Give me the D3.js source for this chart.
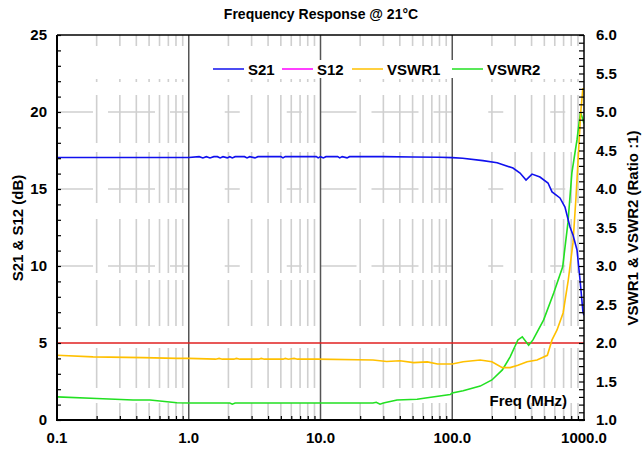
<!DOCTYPE html>
<html lang="en">
  <head>
    <meta charset="UTF-8" />
    <title>Frequency Response</title>
    <script src="https://cdn.jsdelivr.net/npm/d3@7/dist/d3.min.js"></script>
    <style>
      body { margin: 0; background: #fff; }
      text { font-family: "Liberation Sans", Arial, sans-serif; font-weight: bold; fill: #000; }
    </style>
  </head>
  <body>
    <script>
      // ---- data (freq in MHz) ----
      var freqTicks = [0.1, 1, 10, 100, 1000];
      var freqTickLabels = ["0.1", "1.0", "10.0", "100.0", "1000.0"];
      var dbTicks = [0, 5, 10, 15, 20, 25];
      var vswrTicks = [1.0, 1.5, 2.0, 2.5, 3.0, 3.5, 4.0, 4.5, 5.0, 5.5, 6.0];
      var vswrLimit = 2.0;

      var s21 = [
        [0.1, 17.05], [0.5, 17.05], [1.0, 17.05], [1.2, 17.1], [1.28, 17.02], [1.36, 17.1],
        [1.45, 17.02], [1.55, 17.1], [1.65, 17.1], [1.73, 17.02], [1.82, 17.1], [1.96, 17.02],
        [2.05, 17.1], [2.14, 17.02], [2.25, 17.1], [2.65, 17.1], [2.77, 17.02], [2.9, 17.1],
        [3.18, 17.02], [3.35, 17.1], [5.0, 17.1], [5.19, 17.02], [5.4, 17.1], [9.3, 17.1],
        [9.6, 17.02], [10, 17.1], [10.5, 17.02], [11, 17.1], [13.5, 17.1], [14, 17.02],
        [14.6, 17.1], [15.9, 17.02], [16.6, 17.1], [30, 17.1], [50, 17.08], [80, 17.06],
        [100, 17.04], [120, 17.0], [171, 16.84], [219, 16.71], [289, 16.36], [327, 16.04],
        [363, 15.58], [403, 15.97], [463, 15.78], [533, 15.39], [572, 14.81], [657, 14.42],
        [717, 13.83], [783, 12.53], [825, 12.01], [885, 11.04], [933, 9.09], [982, 7.0], [1000, 6.8]
      ];

      var vswr1 = [
        [0.1, 1.84], [0.188, 1.82], [0.449, 1.81], [0.814, 1.8], [1.0, 1.8], [1.6, 1.79],
        [1.7, 1.8], [1.8, 1.79], [2.2, 1.79], [2.3, 1.8], [2.45, 1.79], [3.4, 1.79], [3.55, 1.8],
        [3.75, 1.79], [5.2, 1.79], [5.4, 1.8], [5.7, 1.79], [6.3, 1.8], [6.7, 1.79], [9.4, 1.79],
        [25, 1.78], [31.8, 1.76], [40.1, 1.77], [50.9, 1.745], [64.7, 1.755], [77.3, 1.727],
        [100, 1.727], [121, 1.757], [163, 1.78], [200, 1.757], [240, 1.68], [275, 1.68],
        [315, 1.71], [370, 1.757], [440, 1.78], [527, 1.84], [572, 2.04], [624, 2.17],
        [694, 2.39], [760, 2.82], [825, 3.3], [870, 3.9], [910, 4.5], [945, 5.0], [980, 5.3], [1000, 5.3]
      ];

      var vswr2 = [
        [0.1, 1.3], [0.201, 1.28], [0.378, 1.26], [0.508, 1.26], [0.814, 1.225], [1.0, 1.22],
        [2.05, 1.22], [2.14, 1.205], [2.25, 1.22], [25, 1.22], [26.5, 1.23], [28.3, 1.205],
        [30, 1.22], [38.1, 1.26], [54.1, 1.27], [64.7, 1.29], [96.5, 1.33], [100, 1.35],
        [121, 1.38], [163, 1.44], [200, 1.52], [240, 1.65], [275, 1.82], [315, 2.04],
        [340, 2.08], [380, 1.97], [410, 2.04], [494, 2.3], [589, 2.65], [689, 2.99],
        [755, 3.56], [809, 4.21], [885, 4.64], [940, 5.0], [982, 4.9], [1000, 4.85]
      ];

      var legendNames = ["S21", "S12", "VSWR1", "VSWR2"];
      var legendColors = ["#1010ee", "#ff00ff", "#ffc000", "#22e022"];

      // ---- layout ----
      var W = 644, H = 452;
      var pL = 57, pR = 584, pT = 35, pB = 420;

      var svg = d3.select("body").append("svg")
        .attr("width", W).attr("height", H);
      svg.append("rect").attr("width", W).attr("height", H).attr("fill", "#fff");

      var x = d3.scaleLog().domain([0.1, 1000]).range([pL, pR]);
      var yDb = d3.scaleLinear().domain([0, 25]).range([pB, pT]);
      var yV = d3.scaleLinear().domain([1, 6]).range([pB, pT]);

      // minor frequencies 2..9 in each decade
      var minorF = [];
      [0.1, 1, 10, 100].forEach(function (d) {
        for (var k = 2; k <= 9; k++) minorF.push(d * k);
      });

      // vertical minor grid (broken lines, as in the original)
      svg.append("g").selectAll("line").data(minorF).enter().append("line")
        .attr("x1", function (d) { return x(d); })
        .attr("x2", function (d) { return x(d); })
        .attr("y1", pB).attr("y2", pT)
        .attr("stroke", "#cfcfcf").attr("stroke-width", 1.6)
        .attr("stroke-dasharray", "17,15,40,22,46,7,54,16,51,9,48,13,3,33,11");

      // horizontal grid
      var decadePx = (pR - pL) / 4;
      var hDash = [36, 15, 47, 15, decadePx - 113].join(",");
      svg.append("g").selectAll("line").data([10, 15, 20]).enter().append("line")
        .attr("x1", pL).attr("x2", pR)
        .attr("y1", function (d) { return yDb(d); })
        .attr("y2", function (d) { return yDb(d); })
        .attr("stroke", "#cfcfcf").attr("stroke-width", 1.6)
        .attr("stroke-dasharray", hDash);

      // decade lines
      svg.append("g").selectAll("line").data([1, 10, 100]).enter().append("line")
        .attr("x1", function (d) { return x(d); })
        .attr("x2", function (d) { return x(d); })
        .attr("y1", pB).attr("y2", pT)
        .attr("stroke", "#555").attr("stroke-width", 1.5);

      // VSWR 2:1 reference
      svg.append("line")
        .attr("x1", pL).attr("x2", pR)
        .attr("y1", yV(vswrLimit)).attr("y2", yV(vswrLimit))
        .attr("stroke", "#e02020").attr("stroke-width", 1.5);

      // clip for data
      svg.append("clipPath").attr("id", "plot")
        .append("rect").attr("x", pL).attr("y", pT)
        .attr("width", pR - pL).attr("height", pB - pT);

      var lineDb = d3.line()
        .x(function (d) { return x(d[0]); })
        .y(function (d) { return yDb(d[1]); });
      var lineV = d3.line()
        .x(function (d) { return x(d[0]); })
        .y(function (d) { return yV(d[1]); });

      // legend (drawn under the curves, white box hides grid)
      var legX = [213, 282, 352, 452];
      var leg = svg.append("g");
      leg.append("rect").attr("x", 210).attr("y", 60).attr("width", 342).attr("height", 18)
        .attr("fill", "#fff");
      legendNames.forEach(function (n, i) {
        leg.append("line").attr("x1", legX[i]).attr("x2", legX[i] + 31)
          .attr("y1", 69).attr("y2", 69)
          .attr("stroke", legendColors[i]).attr("stroke-width", 1.5);
        leg.append("text").attr("x", legX[i] + 35).attr("y", 75)
          .attr("font-size", 15).text(n);
      });

      var plot = svg.append("g").attr("clip-path", "url(#plot)");
      plot.append("path").datum(vswr2).attr("d", lineV)
        .attr("fill", "none").attr("stroke", legendColors[3]).attr("stroke-width", 1.6);
      plot.append("path").datum(vswr1).attr("d", lineV)
        .attr("fill", "none").attr("stroke", legendColors[2]).attr("stroke-width", 1.6);
      plot.append("path").datum(s21).attr("d", lineDb)
        .attr("fill", "none").attr("stroke", legendColors[0]).attr("stroke-width", 1.6);

      // ---- axes ----
      var axL = svg.append("g").attr("transform", "translate(" + pL + ",0)")
        .call(d3.axisRight(yDb).ticks(25).tickSize(4).tickFormat(""));
      var axR = svg.append("g").attr("transform", "translate(" + pR + ",0)")
        .call(d3.axisLeft(yV).ticks(50).tickSize(5).tickFormat(""));
      var axB = svg.append("g").attr("transform", "translate(0," + pB + ")")
        .call(d3.axisTop(x).tickValues(minorF).tickSize(4).tickFormat(""));
      [axL, axR, axB].forEach(function (g) {
        g.select(".domain").remove();
        g.selectAll(".tick line").attr("stroke", "#000").attr("stroke-width", 1.2);
      });

      // frame
      svg.append("line").attr("x1", pL).attr("x2", pR).attr("y1", pT).attr("y2", pT)
        .attr("stroke", "#000").attr("stroke-width", 1.5);
      svg.append("line").attr("x1", pR).attr("x2", pR).attr("y1", pT).attr("y2", pB)
        .attr("stroke", "#000").attr("stroke-width", 1.5);
      svg.append("line").attr("x1", pL).attr("x2", pL).attr("y1", pT).attr("y2", pB + 1)
        .attr("stroke", "#000").attr("stroke-width", 2);
      svg.append("line").attr("x1", pL - 1).attr("x2", pR + 1).attr("y1", pB).attr("y2", pB)
        .attr("stroke", "#000").attr("stroke-width", 2);

      // tick labels
      svg.append("g").selectAll("text").data(dbTicks).enter().append("text")
        .attr("x", 47).attr("y", function (d) { return yDb(d) + 5; })
        .attr("text-anchor", "end").attr("font-size", 15)
        .text(function (d) { return d; });
      svg.append("g").selectAll("text").data(vswrTicks).enter().append("text")
        .attr("x", 596).attr("y", function (d) { return yV(d) + 5; })
        .attr("font-size", 15)
        .text(function (d) { return d.toFixed(1); });
      svg.append("g").selectAll("text").data(freqTicks).enter().append("text")
        .attr("x", function (d) { return x(d); }).attr("y", 443)
        .attr("text-anchor", "middle").attr("font-size", 15)
        .text(function (d, i) { return freqTickLabels[i]; });

      // titles
      svg.append("text").attr("x", 321).attr("y", 19)
        .attr("text-anchor", "middle").attr("font-size", 14)
        .text("Frequency Response @ 21°C");
      svg.append("text").attr("transform", "translate(23,228) rotate(-90)")
        .attr("text-anchor", "middle").attr("font-size", 15)
        .text("S21 & S12 (dB)");
      svg.append("text").attr("transform", "translate(638,228) rotate(-90)")
        .attr("text-anchor", "middle").attr("font-size", 15)
        .text("VSWR1 & VSWR2 (Ratio :1)");
      svg.append("text").attr("x", 567).attr("y", 406)
        .attr("text-anchor", "end").attr("font-size", 15)
        .text("Freq (MHz)");
    </script>
  </body>
</html>
